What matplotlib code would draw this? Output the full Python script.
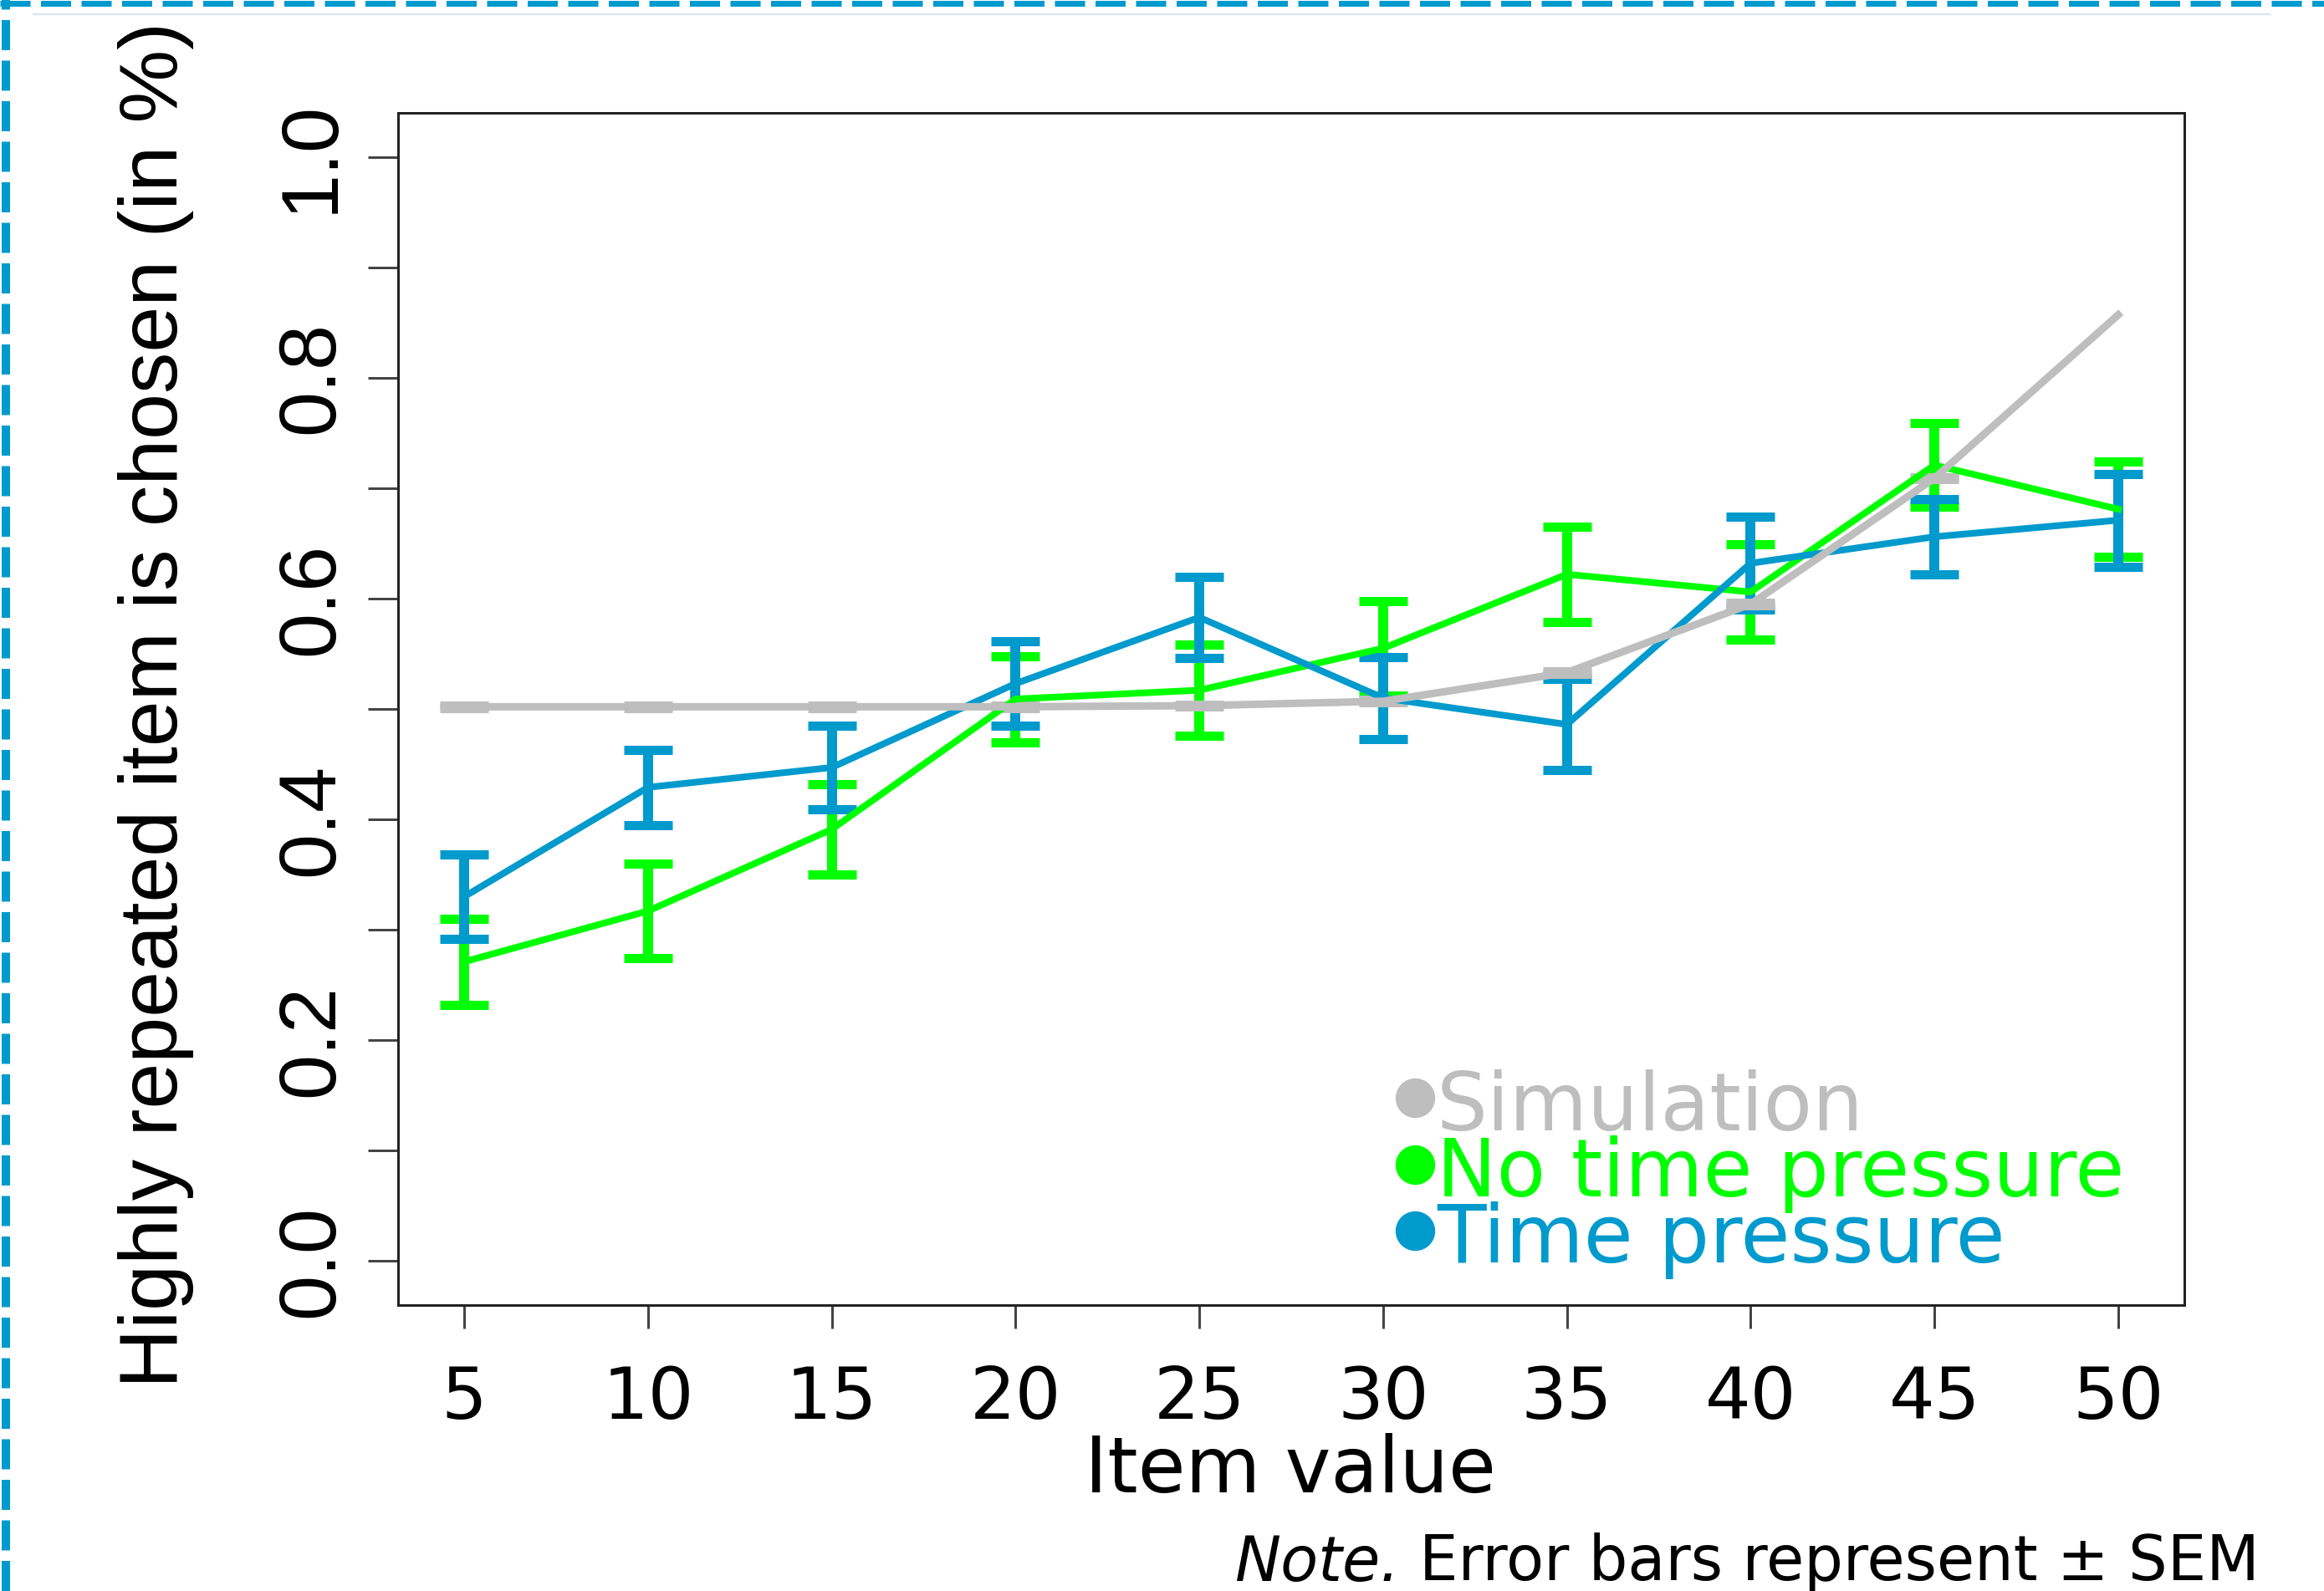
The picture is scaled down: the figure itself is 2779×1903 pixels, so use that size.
import numpy as np
import matplotlib
matplotlib.use("Agg")
import matplotlib.pyplot as plt
from matplotlib.lines import Line2D

# values
item_value = [5, 10, 15, 20, 25, 30, 35, 40, 45, 50]
sim_mean = [0.502, 0.502, 0.502, 0.502, 0.503, 0.507, 0.533, 0.595, 0.709, 0.857]
sim_sem = [0.001, 0.001, 0.001, 0.001, 0.001, 0.001, 0.001, 0.001, 0.001, np.nan]
no_tp_mean = [0.271, 0.317, 0.391, 0.509, 0.517, 0.555, 0.622, 0.606, 0.721, 0.681]
no_tp_sem = [0.039, 0.043, 0.041, 0.039, 0.041, 0.043, 0.043, 0.043, 0.038, 0.043]
tp_mean = [0.330, 0.429, 0.447, 0.523, 0.583, 0.510, 0.486, 0.632, 0.656, 0.671]
tp_sem = [0.038, 0.034, 0.038, 0.038, 0.037, 0.037, 0.041, 0.042, 0.034, 0.042]
y_ticks = [0.0, 0.1, 0.2, 0.3, 0.4, 0.5, 0.6, 0.7, 0.8, 0.9, 1.0]
legend_labels = ["Simulation", "No time pressure", "Time pressure"]

GRAY, GREEN, BLUE = "#BEBEBE", "#00FF00", "#009ACD"

W, H, DPI = 2779, 1903, 100
PX = 72.0 / DPI  # points per pixel
VFONT = ["Liberation Sans", "DejaVu Sans"]

fig = plt.figure(figsize=(W / DPI, H / DPI), dpi=DPI)
ax = fig.add_axes([476 / W, 1 - 1561 / H, (2612 - 476) / W, (1561 - 135) / H])

# green first, blue over it, simulation on top
# (errorbar capsize is half the cap length)
for mean, sem, col, lw, ew in [(no_tp_mean, no_tp_sem, GREEN, 8, 12),
                               (tp_mean, tp_sem, BLUE, 8, 12),
                               (sim_mean, sim_sem, GRAY, 9, 9)]:
    ax.errorbar(item_value, mean, yerr=sem, color=col, lw=lw * PX,
                elinewidth=ew * PX, capsize=29 * PX, capthick=11 * PX)

ax.set_xlim(3.2, 51.8)
ax.set_ylim(-0.04, 1.04)

ax.set_xticks(item_value)
ax.set_xticklabels([str(v) for v in item_value], fontsize=62, va="baseline")
ax.tick_params(axis="x", length=28 * PX, width=3 * PX, color="#444444",
               pad=(1697 - 1589) * PX)

ax.set_yticks(y_ticks)
ax.set_yticklabels(["%.1f" % v if i % 2 == 0 else "" for i, v in enumerate(y_ticks)],
                   rotation=90, rotation_mode="anchor", ha="center", va="baseline",
                   fontsize=70, family=VFONT)
ax.tick_params(axis="y", length=36 * PX, width=3 * PX, color="#444444",
               pad=(440 - 398) * PX)

for s in ax.spines.values():
    s.set_linewidth(3 * PX)
    s.set_color("#222222")

ax.set_xlabel("Item value", fontsize=66.5, va="baseline")
ax.xaxis.set_label_coords((1543 - 476) / 2136, (1561 - 1785) / 1426)
ax.set_ylabel("Highly repeated item is chosen (in %)", fontsize=71, family=VFONT,
              va="baseline", ha="center", rotation=90, rotation_mode="anchor")
ax.yaxis.set_label_coords((212 - 476) / 2136, (1561 - 843.5) / 1426)

# R-style legend: bullet + coloured text, no box
mx = (1692 - 476) / 2136
tx = (1718 - 476) / 2136
for i, (lab, col) in enumerate(zip(legend_labels, [GRAY, GREEN, BLUE])):
    base = 1351.7 + i * 79.2
    ax.plot([mx], [(1561 - base + 38.4) / 1426], "o", ms=46 * PX, color=col,
            transform=ax.transAxes, clip_on=False)
    ax.text(tx, (1561 - base) / 1426, lab, color=col, fontsize=69,
            va="baseline", transform=ax.transAxes)

# note under the plot
note = fig.text(2702 / W, (H - 1890) / H, "Error bars represent \u00b1 SEM",
                fontsize=53, ha="right", va="baseline")
ax.annotate("Note.", xy=(0, 0), xycoords=note, xytext=(-17, 0),
            textcoords="offset points", fontsize=53, style="italic",
            ha="right", va="bottom", annotation_clip=False)

# dashed frame of the source figure (top and left only)
fig.add_artist(Line2D([0, 1], [1 - 3.5 / H, 1 - 3.5 / H], transform=fig.transFigure,
                      color="#009ACD", lw=7 * PX, ls=(0, (36 / 7, 12.5 / 7))))
fig.add_artist(Line2D([7 / W, 7 / W], [0, 1], transform=fig.transFigure,
                      color="#009ACD", lw=10 * PX, ls=(0, (36 / 10, 12.5 / 10))))
fig.add_artist(Line2D([40 / W, 2714 / W], [1 - 17 / H, 1 - 17 / H],
                      transform=fig.transFigure, color="#dce6f0", lw=2.5 * PX))

fig.savefig("out.png", dpi=DPI)
